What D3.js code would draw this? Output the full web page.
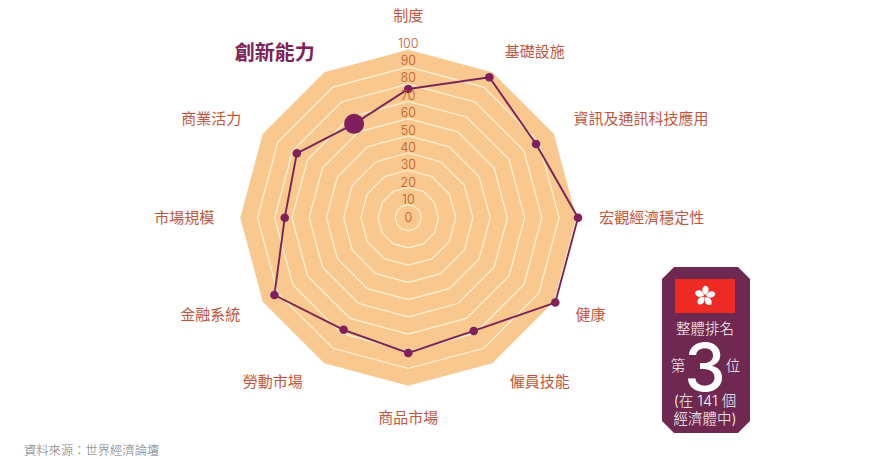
<!DOCTYPE html>
<html lang="zh-Hant">
<head>
  <meta charset="UTF-8">
  <title>創新能力</title>
  <script src="https://d3js.org/d3.v7.min.js"></script>
  <style>
    html, body { margin: 0; padding: 0; background: #fff; overflow: hidden; }
    text { font-family: "Noto Sans CJK TC", "Noto Sans", sans-serif; }
  </style>
</head>
<body>
  <div id="chart"></div>

  <script>
    // datos
    const categories = ['制度', '基礎設施', '資訊及通訊科技應用', '宏觀經濟穩定性', '健康', '僱員技能',
      '商品市場', '勞動市場', '金融系統', '市場規模', '商業活力', '創新能力'];
    const scores = [77.2, 96.6, 88.1, 101, 101, 78.4, 81, 77.6, 92.2, 74.2, 77.2, 65.4];
    const ringLevels = [10, 20, 30, 40, 50, 60, 70, 80, 90, 100];
    const tickLabels = ['0', '10', '20', '30', '40', '50', '60', '70', '80', '90', '100'];
    const highlighted = '創新能力';
    const badgeLines = ['整體排名', '第', '3', '位', '(在 141 個', '經濟體中)'];
    const sourceText = '資料來源：世界經濟論壇';

    const width = 874;
    const height = 459;
    const cx = 408.3;
    const cy = 217.7;

    // ajuste fino de cada etiqueta [dx, dy], mismo orden que categories
    const labelNudge = [[0, -1], [0, 1], [-2, -3], [-2, 0], [0, 0], [5, -3],
      [0, -1], [-9, -3], [-1, 0], [-1, 0], [0, -3], [3, 2]];

    const svg = d3.select('#chart').append('svg')
      .attr('width', width)
      .attr('height', height)
      .style('display', 'block');

    const r = d3.scaleLinear().domain([10, 100]).range([13, 168]);
    const angle = d3.scalePoint().domain(categories).range([0, 2 * Math.PI * 11 / 12]);
    const tickY = d3.scalePoint().domain(tickLabels).range([217, 43]);

    const radial = d3.lineRadial()
      .angle((d) => d.a)
      .radius((d) => d.r)
      .curve(d3.curveLinearClosed);

    const plot = svg.append('g').attr('transform', `translate(${cx},${cy})`);

    // anillos, el de 100 es el fondo
    const ringPath = (level) => radial(categories.map((c) => ({ a: angle(c), r: r(level) })));

    plot.append('path')
      .attr('d', ringPath(100))
      .attr('fill', '#f9c88f');

    plot.selectAll('.ring')
      .data(ringLevels.slice(0, -1))
      .enter()
      .append('path')
      .attr('class', 'ring')
      .attr('d', ringPath)
      .attr('fill', 'none')
      .attr('stroke', '#fff3d8')
      .attr('stroke-width', 1.2);

    svg.selectAll('.tick-label')
      .data(tickLabels)
      .enter()
      .append('text')
      .attr('class', 'tick-label')
      .attr('x', cx)
      .attr('y', (d) => tickY(d))
      .attr('dy', '0.36em')
      .attr('text-anchor', 'middle')
      .attr('font-size', 12.5)
      .style('font-family', 'Inter, sans-serif')
      .style('font-weight', 300)
      .attr('fill', '#c4521f')
      .text((d) => d);

    // serie
    const points = categories.map((c, i) => ({ name: c, a: angle(c), r: r(scores[i]), nudge: labelNudge[i] }));

    plot.append('path')
      .attr('d', radial(points))
      .attr('fill', 'none')
      .attr('stroke', '#7a2356')
      .attr('stroke-width', 1.9);

    plot.selectAll('.dot')
      .data(points)
      .enter()
      .append('circle')
      .attr('class', 'dot')
      .attr('cx', (d) => d.r * Math.sin(d.a))
      .attr('cy', (d) => -d.r * Math.cos(d.a))
      .attr('r', (d) => (d.name === highlighted ? 10 : 4.3))
      .attr('fill', '#7f1f5c');

    // etiquetas de las categorias
    plot.selectAll('.cat-label')
      .data(points)
      .enter()
      .append('text')
      .attr('class', 'cat-label')
      .each(function (d) {
        const s = Math.sin(d.a);
        const c = Math.cos(d.a);
        const isPole = Math.abs(s) < 0.01;
        const dist = isPole ? 201 : 193;
        const isHi = d.name === highlighted;
        d3.select(this)
          .attr('x', dist * s + d.nudge[0])
          .attr('y', -dist * c + d.nudge[1])
          .attr('dy', '0.36em')
          .attr('text-anchor', isPole ? 'middle' : (s > 0 ? 'start' : 'end'))
          .attr('font-size', isHi ? 20 : 15)
          .style('font-weight', isHi ? 700 : 400)
          .attr('fill', isHi ? '#7f2258' : '#c4553a');
      })
      .text((d) => d.name);

    // cuadro del ranking
    const badge = svg.append('g');
    const bx0 = 662, bx1 = 750, by0 = 267, by1 = 433, cut = 12;
    badge.append('polygon')
      .attr('points', [
        [bx0 + cut, by0], [bx1 - cut, by0], [bx1, by0 + cut], [bx1, by1 - cut],
        [bx1 - cut, by1], [bx0 + cut, by1], [bx0, by1 - cut], [bx0, by0 + cut]
      ].join(' '))
      .attr('fill', '#6f2850');

    badge.append('rect')
      .attr('x', 675).attr('y', 279)
      .attr('width', 60).attr('height', 34)
      .attr('fill', '#ed2a24');

    // flor del escudo, cinco petalos
    const flower = badge.append('g').attr('transform', 'translate(705,296)');
    d3.range(5).forEach((i) => {
      flower.append('path')
        .attr('transform', `rotate(${i * 72 + 10})`)
        .attr('d', 'M0,-1 C-4.5,-3.5 -5,-8 -1.5,-10.5 C2.5,-10 4.5,-5.5 0,-1 Z')
        .attr('fill', '#fff');
    });

    const badgeText = (txt, x, y, size, extra) => {
      const t = badge.append('text')
        .attr('x', x).attr('y', y)
        .attr('dy', '0.36em')
        .attr('text-anchor', 'middle')
        .attr('font-size', size)
        .attr('fill', '#fff')
        .style('font-family', 'Inter, "Noto Sans CJK TC", sans-serif')
        .style('font-weight', 300)
        .text(txt);
      if (extra) extra(t);
    };
    badgeText(badgeLines[0], 705, 329, 14.5);
    badgeText(badgeLines[1], 678, 366, 14.5);
    badgeText(badgeLines[2], 705, 367, 66, (t) => t.style('font-weight', 500));
    badgeText(badgeLines[3], 733, 366, 14.5);
    badgeText(badgeLines[4], 705, 401, 14.5);
    badgeText(badgeLines[5], 705, 419, 14.5);

    svg.append('text')
      .attr('x', 24)
      .attr('y', 451)
      .attr('dy', '0.36em')
      .attr('font-size', 12.3)
      .style('font-weight', 300)
      .attr('fill', '#777')
      .text(sourceText);
  </script>
</body>
</html>
